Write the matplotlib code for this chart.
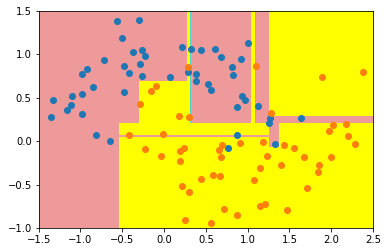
import matplotlib
matplotlib.use("Agg")
import matplotlib.pyplot as plt

# decision tree leaves: (x0, x1, y0, y1, class); later entries drawn on top
leaf_x0 = [-1.5, -0.54, 1.37, 1.256, 1.256, -0.303, 0.278, 1.045, -0.54, 0.307, 1.093]
leaf_x1 = [2.5, 1.256, 2.5, 1.372, 2.5, 0.307, 0.307, 1.093, 1.256, 0.323, 1.105]
leaf_y0 = [-1.0, -1.0, -1.0, -1.0, 0.291, 0.214, 0.693, 0.214, 0.046, 0.214, 0.214]
leaf_y1 = [1.5, 0.214, 0.214, -0.062, 1.5, 0.693, 1.5, 1.5, 0.076, 1.5, 1.5]
leaf_cls = [0, 1, 1, 1, 1, 1, 1, 1, 0, 2, 2]
region_colors = ["#EE9A9A", "#FFFF00", "#4FD6CF"]

# class 0 (upper moon)
x0 = [-0.562, -0.502, -0.478, -0.419, -0.718, -0.921, -0.981, -0.849, -0.981, -0.478,
      -1.100, -1.328, -1.112, -1.160, -1.352, -0.981, -0.813, -0.646, -0.299, -0.371,
      -0.263, -0.227, -0.287, -0.263, 0.072, 0.215, 0.323, 0.443, 0.610, 0.682,
      1.005, 0.921, 0.813, 0.825, 0.287, 0.383, 0.383, 0.526, 0.562, 0.933,
      0.969, 0.873, 1.124, 1.270, 1.256, 1.633, 0.873, 1.328, 0.766]
y0 = [1.379, 1.184, 0.862, 0.782, 0.931, 0.828, 0.770, 0.621, 0.540, 0.563,
      0.517, 0.471, 0.414, 0.356, 0.276, 0.310, 0.069, 0.000, 1.391, 1.023,
      1.046, 0.977, 0.885, 0.747, 0.736, 1.080, 1.057, 1.046, 1.057, 0.966,
      1.126, 0.943, 0.851, 0.759, 0.793, 0.770, 0.690, 0.655, 0.586, 0.517,
      0.471, 0.391, 0.402, 0.264, 0.207, 0.264, 0.069, -0.034, -0.080]

# class 1 (lower moon)
x1 = [0.287, 1.105, -0.096, -0.156, -0.287, 0.179, 0.299, 1.280, -0.419, -0.012,
      0.694, 0.909, 1.184, 1.435, 1.555, -0.227, 0.239, 1.890, 2.380, 2.022,
      2.177, 1.974, -0.036, 0.191, 0.191, 0.658, 0.682, 0.443, 0.586, 0.670,
      0.215, 0.299, 0.718, 0.873, 0.251, 0.562, 1.077, 1.145, 1.145, 1.232,
      1.675, 1.400, 1.854, 1.842, 1.711, 2.201, 2.285, 1.998, 1.208, 1.471]
y1 = [0.851, 0.862, 0.632, 0.575, 0.425, 0.287, 0.276, 0.322, 0.069, 0.080,
      -0.046, -0.023, -0.011, -0.046, -0.075, -0.086, -0.080, 0.736, 0.793, 0.184,
      0.195, 0.115, -0.172, -0.115, -0.230, -0.103, -0.184, -0.437, -0.391, -0.402,
      -0.517, -0.586, -0.782, -0.851, -0.908, -0.943, -0.448, -0.310, -0.747, -0.172,
      -0.184, -0.276, -0.276, -0.356, -0.540, 0.057, -0.034, -0.184, -0.724, -0.793]

fig = plt.figure(figsize=(388 / 72, 252 / 72), dpi=72)
ax = fig.add_axes([0.0997, 0.094, 0.8616, 0.8636])

for xa, xb, ya, yb, c in zip(leaf_x0, leaf_x1, leaf_y0, leaf_y1, leaf_cls):
    ax.fill_between([xa, xb], ya, yb, color=region_colors[c], lw=0, zorder=1)

ax.scatter(x0, y0, color="#1f77b4", zorder=3)
ax.scatter(x1, y1, color="#ff7f0e", zorder=3)

ax.set_xlim(-1.5, 2.5)
ax.set_ylim(-1.0, 1.5)

fig.savefig("out.png", dpi=72)
